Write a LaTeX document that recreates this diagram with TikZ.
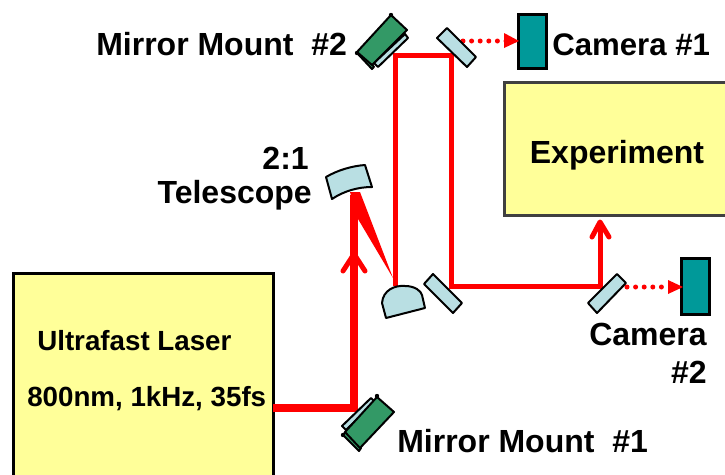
\documentclass[tikz,border=0pt]{standalone}
\usepackage{fontspec}
\setmainfont{Liberation Sans}
\definecolor{boxyellow}{HTML}{FFFF99}
\definecolor{mirrorblue}{HTML}{B9DFE3}
\definecolor{mountgreen}{HTML}{339966}
\definecolor{camteal}{HTML}{009999}
\definecolor{boxgray}{HTML}{404040}
\tikzset{
  bigtext/.style={font=\fontsize{24}{28}\selectfont\bfseries,inner sep=0pt},
  cameratext/.style={font=\fontsize{23.4}{28}\selectfont\bfseries,inner sep=0pt},
  smalltext/.style={font=\fontsize{20.8}{24}\selectfont\bfseries,inner sep=0pt,anchor=west},
  yellowbox/.style={fill=boxyellow,line width=3\pxu},
  camerabox/.style={fill=camteal,draw=black,line width=3\pxu},
  optic/.style={fill=mirrorblue,draw=black,line width=2\pxu,line join=round},
  mount/.style={fill=mountgreen,draw=black,line width=2\pxu,line join=round},
  thinbeam/.style={draw=red,line width=5\pxu,line join=miter},
  thickbeam/.style={draw=red,line width=8\pxu,line join=miter},
  chevron/.style={draw=red,line cap=round,line join=round},
  dotbeam/.style={draw=red,line width=5\pxu,dash pattern=on 0pt off 8.6\pxu,line cap=round},
}
\newcommand{\pxu}{*0.75pt}
\begin{document}
\begin{tikzpicture}[x=0.75pt,y=-0.75pt]
\useasboundingbox (0,0) rectangle (725,475);
% boxes
\path[yellowbox,draw=black] (13,273) rectangle (273,490);
\path[yellowbox,draw=boxgray] (504,82) rectangle (740,215);
\node[camerabox,minimum width=21pt,minimum height=41pt,inner sep=0pt] (cam1) at (532,41.5) {};
\node[camerabox,minimum width=21pt,minimum height=42pt,inner sep=0pt] (cam2) at (695.5,286.5) {};
% named beam points
\coordinate (laserout) at (273,408);
\coordinate (m1) at (354,408);
\coordinate (tel) at (354,195);
\coordinate (lensout) at (395,286);
\coordinate (m2) at (395,55);
\coordinate (m3) at (451,55);
\coordinate (m4) at (451,286);
\coordinate (m5) at (600,286);
\coordinate (exp) at (600,222);
\coordinate (d1) at (463,41);
\coordinate (d1e) at (506,41);
\coordinate (d2) at (627,287);
\coordinate (d2e) at (668,287);
% beams
\path[thickbeam] (laserout) -- (m1) -- (tel);
\fill[red] (350,192) -- (360,192) -- (393,278) -- (358,219) -- cycle;
\draw[chevron,line width=5\pxu] (343,271) -- (354,254) -- (365,271);
\path[thinbeam] (lensout) -- (m2) -- (m3) -- (m4) -- (m5) -- (exp);
\draw[chevron,line width=5\pxu] (592,237) -- (600,222) -- (609,237);
% dotted arrows
\path[dotbeam] (d1) -- (d1e);
\fill[red] (504,33) -- (519,41) -- (504,48) -- cycle;
\path[dotbeam] (d2) -- (d2e);
\fill[red] (668,280) -- (683,287) -- (668,294) -- cycle;
% flat mirrors
\path[optic] (447,28) -- (476,57) -- (467,67) -- (437,38) -- cycle;
\path[optic] (433,274) -- (462,303) -- (453,313) -- (424,284) -- cycle;
\path[optic] (617,274) -- (626,283) -- (597,313) -- (588,303) -- cycle;
% telescope mirror
\path[optic] (326,177) .. controls (338,170) and (352,166) .. (365,165) -- (372,187) .. controls (358,187) and (344,191) .. (332,199) -- cycle;
% lens
\path[optic] (386,318) -- (382,303) .. controls (383,290) and (395,285) .. (405,286) .. controls (415,286) and (421,291) .. (422,295) -- (425,308) -- cycle;
% mirror mount 2
\path[mount] (357,53) -- (372,69) -- (374,67) -- (360,50) -- cycle;
\path[optic] (405,34) -- (408,38) -- (378,67) -- (374,63) -- cycle;
\path[mount] (391,15) -- (407,30) -- (372,65) -- (357,52) -- cycle;
\fill (391,15) circle (2.2\pxu);
\fill (357,53) circle (2.2\pxu);
% mirror mount 1
\path[mount] (343,435) -- (359,451) -- (361,448) -- (346,431) -- cycle;
\path[optic] (371,398) -- (375,402) -- (346,430) -- (342,426) -- cycle;
\path[mount] (377,397) -- (394,412) -- (360,448) -- (345,432) -- cycle;
\fill (377,396) circle (2.2\pxu);
\fill (343,435) circle (2.2\pxu);
% labels
\node[bigtext,anchor=west] (lm2) at (96,44) {Mirror Mount\ \ \#2};
\node[cameratext,anchor=west] (lc1) at (552,45) {Camera \#1};
\node[bigtext,anchor=center] (lex) at (617,155) {Experiment};
\node[bigtext,anchor=east] (l21) at (309,158) {2:1};
\node[bigtext,anchor=east] (ltel) at (312,195) {Telescope};
\node[smalltext] (lul) at (37,341) {Ultrafast Laser};
\node[smalltext] (l800) at (27,399) {800nm, 1kHz, 35fs};
\node[bigtext,anchor=east] (lc2a) at (707,334) {Camera};
\node[bigtext,anchor=east] (lc2b) at (707,372) {\#2};
\node[bigtext,anchor=west] (lm1) at (397,441) {Mirror Mount\ \ \#1};
\end{tikzpicture}
\end{document}
